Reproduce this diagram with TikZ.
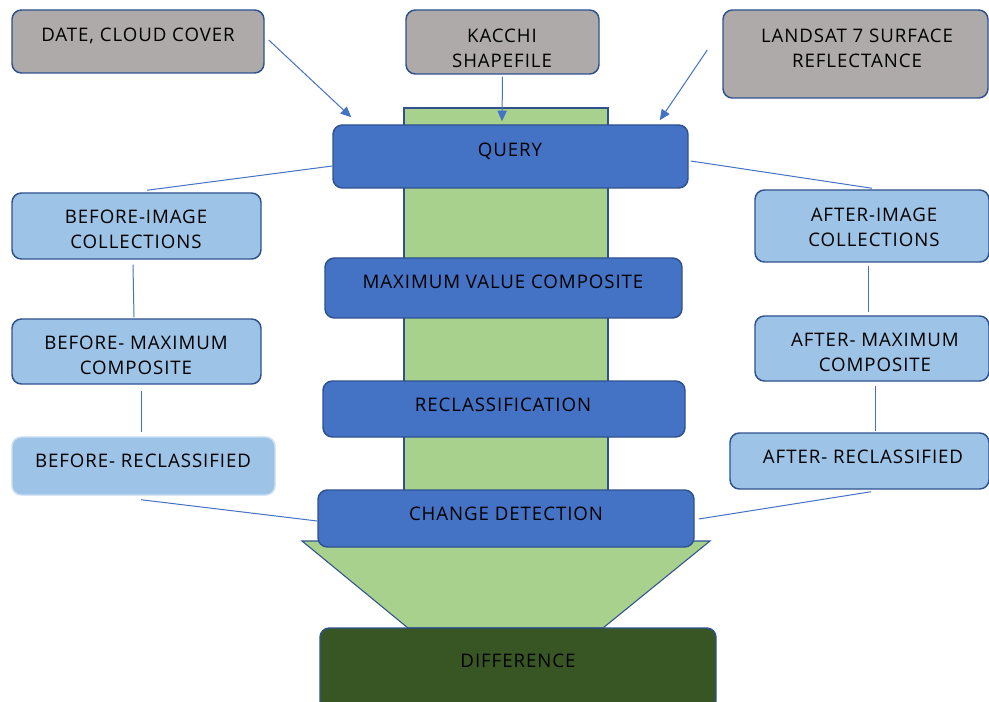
\documentclass[tikz,border=0pt]{standalone}
\usepackage{fontspec}
\setmainfont[LetterSpace=5]{Open Sans}
\usetikzlibrary{arrows.meta}
\definecolor{grayfill}{HTML}{AEAAAA}
\definecolor{bdr}{HTML}{2F528F}
\definecolor{midblue}{HTML}{4472C4}
\definecolor{lightblue}{HTML}{9DC3E6}
\definecolor{shaft}{HTML}{A9D18E}
\definecolor{darkgreen}{HTML}{375623}
\begin{document}
\begin{tikzpicture}[x=0.75pt,y=-0.75pt,
  box/.style={draw=bdr, line width=1.1pt, rounded corners=7pt, inner sep=0pt},
  graybox/.style={box, fill=grayfill},
  midbox/.style={box, fill=midblue},
  lightbox/.style={box, fill=lightblue},
  txt/.style={align=center, inner sep=0pt, yshift=-1.5pt, font=\fontsize{14}{18.75}\selectfont},
  conn/.style={draw=midblue, line width=0.75pt},
  arr/.style={conn, -{Triangle[length=8pt,width=7pt]}}]
\useasboundingbox (0,0) rectangle (989,702);
\clip (0,0) rectangle (989,702);
\fill[white] (0,0) rectangle (989,702);
% funnel
\draw[fill=shaft, draw=bdr, line width=0.8pt] (404,108) rectangle (608,545);
\draw[fill=shaft, draw=bdr, line width=0.8pt] (302,541) -- (710,541) -- (603,628) -- (408,628) -- cycle;
% input boxes
\node[graybox, minimum width=189pt, minimum height=47.25pt] (dt) at (138,41.5) {};
\node[graybox, minimum width=144.75pt, minimum height=48pt] (k) at (502.5,42) {};
\node[graybox, minimum width=198.75pt, minimum height=66pt] (ls) at (855.5,54) {};
% central steps
\node[midbox, minimum width=266.25pt, minimum height=47.25pt] (q) at (510.5,156.5) {};
\node[midbox, minimum width=267.75pt, minimum height=45pt] (mvc) at (503.5,288) {};
\node[midbox, minimum width=271.5pt, minimum height=42pt] (rc) at (504,409) {};
\node[midbox, minimum width=282pt, minimum height=42.75pt] (cd) at (506,518.5) {};
\node[box, fill=darkgreen, minimum width=297pt, minimum height=61.5pt] (df) at (518,669) {};
% side boxes
\node[lightbox, minimum width=186.75pt, minimum height=49.5pt] (bic) at (136.5,226) {};
\node[lightbox, minimum width=186.75pt, minimum height=48.75pt] (bmc) at (136.5,351.5) {};
\node[box, fill=lightblue, draw=lightblue!55!white, minimum width=197.25pt, minimum height=43.5pt] (brc) at (143.5,466) {};
\node[lightbox, minimum width=175.5pt, minimum height=54pt] (aic) at (872,226) {};
\node[lightbox, minimum width=175.5pt, minimum height=48.75pt] (amc) at (872,348.5) {};
\node[lightbox, minimum width=194.25pt, minimum height=42pt] (arc) at (859.5,461) {};
% texts
\node[txt] (dtt) at (138,34) {DATE, CLOUD COVER};
\node[txt] (kt) at (502,46) {KACCHI\\SHAPEFILE};
\node[txt] (lst) at (857,46.5) {LANDSAT 7 SURFACE\\REFLECTANCE};
\node[txt] (qt) at (510,149) {QUERY};
\node[txt] (mvct) at (503,280) {MAXIMUM VALUE COMPOSITE};
\node[txt] (rct) at (503,403) {RECLASSIFICATION};
\node[txt] (cdt) at (506,512) {CHANGE DETECTION};
\node[txt] (dft) at (518,659) {DIFFERENCE};
\node[txt] (bict) at (136,227.5) {BEFORE-IMAGE\\COLLECTIONS};
\node[txt] (bmct) at (136,353.5) {BEFORE- MAXIMUM\\COMPOSITE};
\node[txt] (brct) at (143,459) {BEFORE- RECLASSIFIED};
\node[txt] (aict) at (874,225.5) {AFTER-IMAGE\\COLLECTIONS};
\node[txt] (amct) at (875,350) {AFTER- MAXIMUM\\COMPOSITE};
\node[txt] (arct) at (863,455) {AFTER- RECLASSIFIED};
% connectors
\draw[arr] ([shift={(4,-1.5)}]dt.east) -- ([shift={(19,-7)}]q.north west);
\draw[arr] ([shift={(0,2)}]k.south) -- ([shift={(-8.5,-3)}]q.north);
\draw[arr] ([shift={(-15,-4)}]ls.west) -- ([shift={(-29,-4)}]q.north east);
\draw[conn] ([shift={(0,9.5)}]q.west) -- ([shift={(10.5,-2)}]bic.north);
\draw[conn] ([shift={(2,4.5)}]q.east) -- ([shift={(0,-1)}]aic.north);
\draw[conn] ([shift={(-3.5,5)}]bic.south) -- ([shift={(-2.5,-1)}]bmc.north);
\draw[conn] ([shift={(4.5,6)}]bmc.south) -- ([shift={(-2.5,-4)}]brc.north);
\draw[conn] ([shift={(-2.5,4)}]brc.south) -- ([shift={(0,2.5)}]cd.west);
\draw[conn] ([shift={(-4,3)}]aic.south) -- ([shift={(-4,-3)}]amc.north);
\draw[conn] ([shift={(3,4)}]amc.south) -- ([shift={(15.5,-1)}]arc.north);
\draw[conn] ([shift={(11.5,2)}]arc.south) -- ([shift={(4,0.5)}]cd.east);
\end{tikzpicture}
\end{document}
